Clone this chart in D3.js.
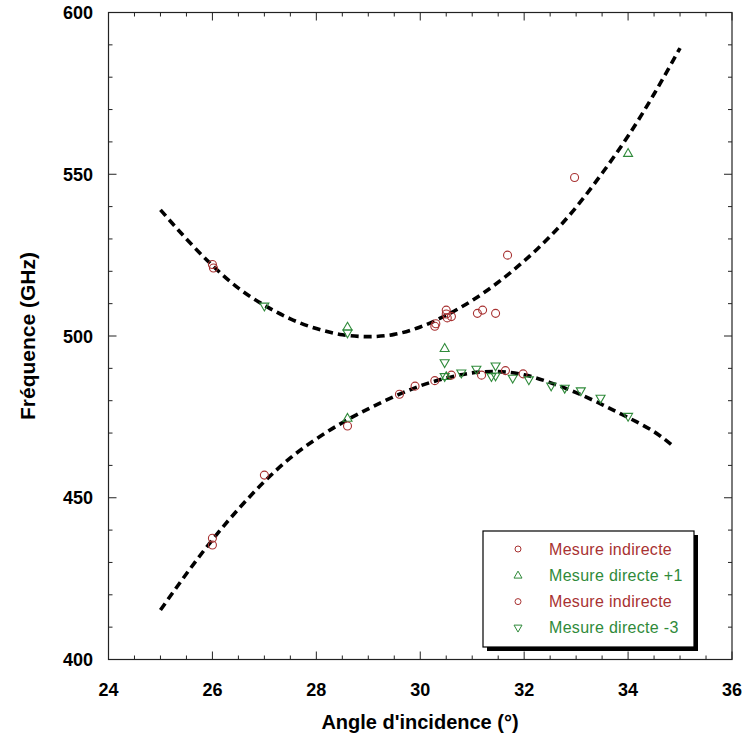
<!DOCTYPE html>
<html><head><meta charset="utf-8">
<script src="https://cdn.jsdelivr.net/npm/d3@7"></script>
<style>body{margin:0;background:#fff}svg{display:block}</style>
</head><body>
<svg id="c" width="742" height="749"></svg>
<script>
const xTicks = [24, 26, 28, 30, 32, 34, 36];
const yTicks = [400, 450, 500, 550, 600];

const indirectUpper = [[26,522.1],[26.02,521],[30.28,503],[30.3,503.8],[30.5,508],[30.5,506.8],[30.52,505.6],[30.6,506],[31.1,507],[31.2,508],[31.45,507],[31.68,525],[32.97,549]];
const directPlus1 = [[28.6,502.8],[28.6,474.6],[30.47,496.2],[30.5,487.5],[34.0,556.5]];
const indirectLower = [[26,437.5],[26,435.4],[27,457],[28.6,472.2],[29.6,482],[29.9,484.5],[30.28,486.2],[30.6,487.9],[31.18,487.9],[31.64,489.3],[31.98,488.3]];
const directMinus3 = [[27.0,509.2],[28.6,500.9],[30.47,491.7],[30.47,487.4],[30.79,488.5],[31.08,489.7],[31.37,487.4],[31.45,490.7],[31.45,487.6],[31.78,486.9],[32.09,486.4],[32.52,484.5],[32.78,483.8],[33.09,483],[33.47,480.7],[34.0,475.1]];

const upperFit = [[25,539],[25.5,530],[26,521.8],[26.5,514.8],[27,509.5],[27.5,505.3],[28,502.3],[28.5,500.4],[29,499.8],[29.5,500.5],[30,502.8],[30.5,506.4],[31,511],[31.5,516.6],[32,523.2],[32.5,530.8],[33,539.8],[33.5,550.3],[34,561.8],[34.5,574.8],[35,589]];
const lowerFit = [[25,415.3],[25.5,426.5],[26,437],[26.5,446.5],[27,455],[27.5,462.3],[28,468.2],[28.5,473.2],[29,477.5],[29.5,481.3],[30,484.6],[30.5,487],[31,488.6],[31.5,489],[32,488],[32.5,485.6],[33,482.5],[33.5,478.8],[34,474.8],[34.5,470.4],[34.9,465.5]];

const legendLabels = ["Mesure indirecte", "Mesure directe +1", "Mesure indirecte", "Mesure directe -3"];

const RED = "#a83232", GREEN = "#2f8a3a";
const L = 108.5, R = 732, T = 12.5, B = 659.5;
const svg = d3.select("#c");
const x = d3.scaleLinear().domain([24, 36]).range([L, R]);
const y = d3.scaleLinear().domain([400, 600]).range([B, T]);
const font = "'Liberation Sans', Arial, sans-serif";

// ticks (inward on all sides)
const xMinor = d3.range(24, 36.01, 0.5);
const yMinor = d3.range(400, 600.01, 10);
const g = svg.append("g").attr("stroke", "#222").attr("stroke-width", 1);
xMinor.forEach(v => {
  const len = (Math.abs(v % 2) < 1e-6) ? 8 : 4;
  g.append("line").attr("x1", x(v)).attr("x2", x(v)).attr("y1", B).attr("y2", B - len);
  g.append("line").attr("x1", x(v)).attr("x2", x(v)).attr("y1", T).attr("y2", T + len);
});
yMinor.forEach(v => {
  const len = (Math.abs(v % 50) < 1e-6) ? 8 : 4;
  g.append("line").attr("x1", L).attr("x2", L + len).attr("y1", y(v)).attr("y2", y(v));
  g.append("line").attr("x1", R).attr("x2", R - len).attr("y1", y(v)).attr("y2", y(v));
});
svg.append("rect").attr("x", L).attr("y", T).attr("width", R - L).attr("height", B - T)
  .attr("fill", "none").attr("stroke", "#222").attr("stroke-width", 1.2);

// tick labels
svg.append("g").selectAll("text").data(xTicks).join("text")
  .attr("x", d => x(d)).attr("y", 696).attr("text-anchor", "middle")
  .attr("font-family", font).attr("font-weight", "bold").attr("font-size", 18).text(d => d);
svg.append("g").selectAll("text").data(yTicks).join("text")
  .attr("x", 93).attr("y", d => y(d) + 6.5).attr("text-anchor", "end")
  .attr("font-family", font).attr("font-weight", "bold").attr("font-size", 18).text(d => d);

// titles
svg.append("text").attr("x", 420).attr("y", 729).attr("text-anchor", "middle")
  .attr("font-family", font).attr("font-weight", "bold").attr("font-size", 20).text("Angle d'incidence (°)");
svg.append("text").attr("transform", "translate(35,336) rotate(-90)").attr("text-anchor", "middle")
  .attr("font-family", font).attr("font-weight", "bold").attr("font-size", 21).text("Fréquence (GHz)");

// fit curves
const line = d3.line().x(d => x(d[0])).y(d => y(d[1])).curve(d3.curveNatural);
[upperFit, lowerFit].forEach(data => {
  svg.append("path").attr("d", line(data)).attr("fill", "none").attr("stroke", "#000")
    .attr("stroke-width", 3.6).attr("stroke-dasharray", "8,5");
});

// symbols
function tri(cx, cy, s, up) {
  const h = s * 0.87;
  return up ? `M${cx},${cy - h * 0.6}L${cx + s / 2},${cy + h * 0.4}L${cx - s / 2},${cy + h * 0.4}Z`
            : `M${cx},${cy + h * 0.6}L${cx + s / 2},${cy - h * 0.4}L${cx - s / 2},${cy - h * 0.4}Z`;
}
function drawSeries(data, type) {
  const gg = svg.append("g").attr("fill", "none").attr("stroke-width", 1.1);
  data.forEach(d => {
    if (type === "circle") {
      gg.append("circle").attr("cx", x(d[0])).attr("cy", y(d[1])).attr("r", 4).attr("stroke", RED);
    } else {
      gg.append("path").attr("d", tri(x(d[0]), y(d[1]), 9, type === "up")).attr("stroke", GREEN);
    }
  });
}
drawSeries(indirectUpper, "circle");
drawSeries(directPlus1, "up");
drawSeries(indirectLower, "circle");
drawSeries(directMinus3, "down");

// legend
const lx = 483, ly = 531, lw = 211, lh = 116;
svg.append("rect").attr("x", lx + 4).attr("y", ly + 4).attr("width", lw).attr("height", lh).attr("fill", "#000");
svg.append("rect").attr("x", lx).attr("y", ly).attr("width", lw).attr("height", lh)
  .attr("fill", "#fff").attr("stroke", "#000").attr("stroke-width", 1.2);
const types = ["circle", "up", "circle", "down"];
const colors = [RED, GREEN, RED, GREEN];
legendLabels.forEach((lab, i) => {
  const cy = 549 + i * 26.3;
  if (types[i] === "circle") {
    svg.append("circle").attr("cx", 518).attr("cy", cy).attr("r", 3).attr("fill", "none").attr("stroke", RED).attr("stroke-width", 1);
  } else {
    svg.append("path").attr("d", tri(518, cy, 8, types[i] === "up")).attr("fill", "none").attr("stroke", GREEN).attr("stroke-width", 1);
  }
  svg.append("text").attr("x", 549).attr("y", cy + 5.5).attr("font-family", font).attr("font-size", 16)
    .attr("letter-spacing", 0.3).attr("fill", colors[i]).text(lab);
});
</script>
</body></html>
